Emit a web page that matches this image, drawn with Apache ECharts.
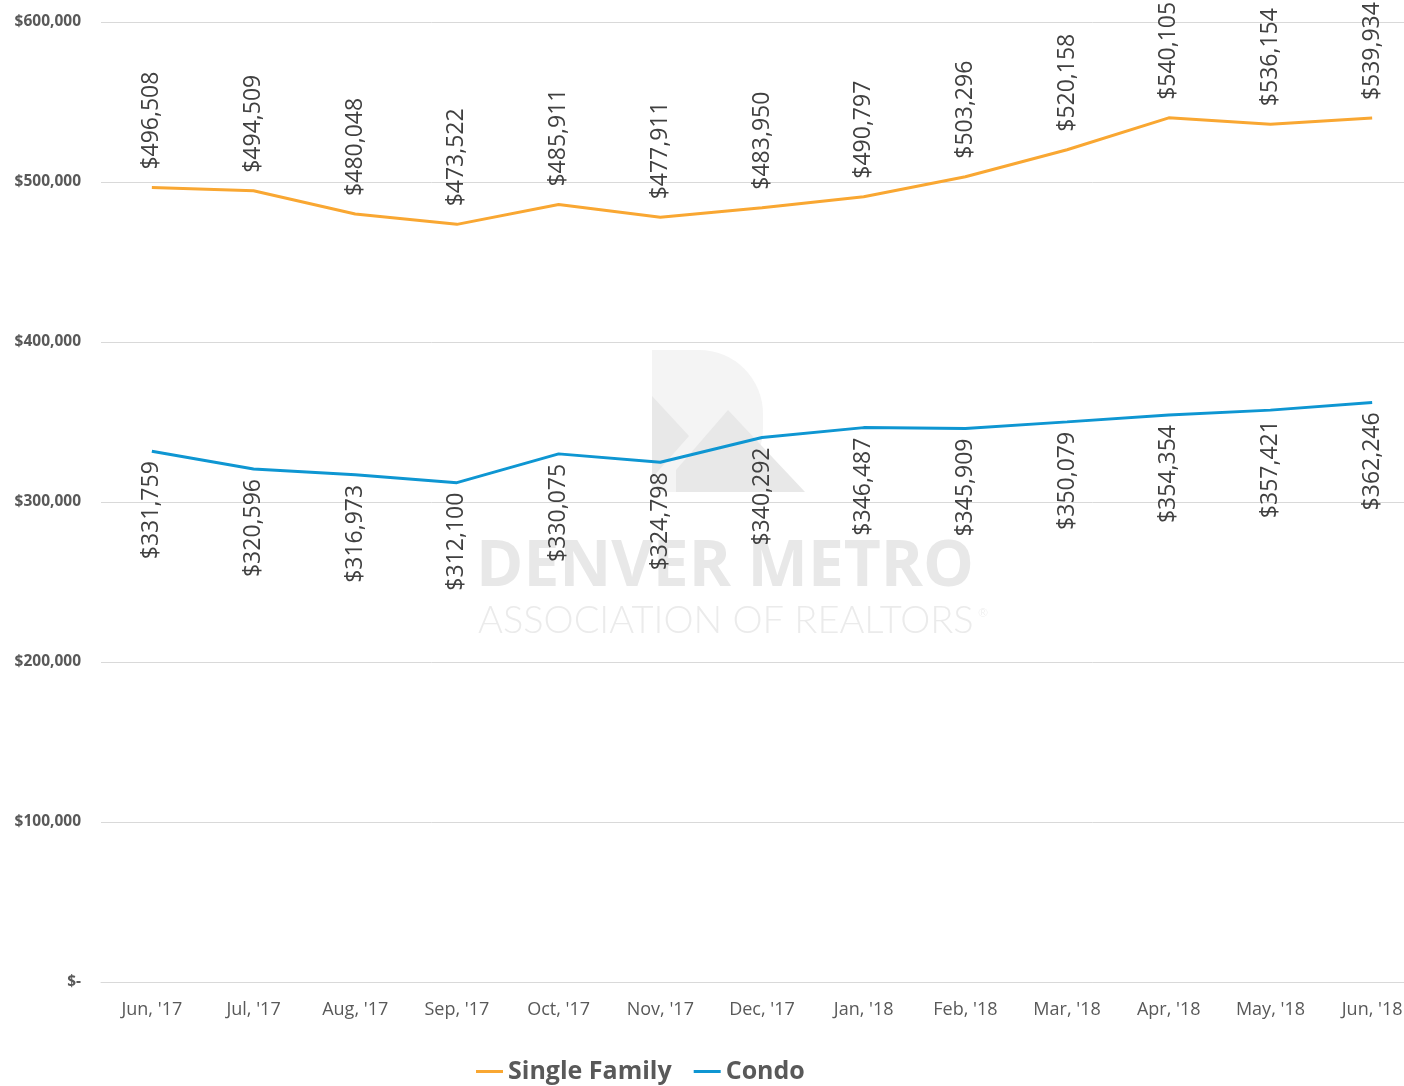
<!DOCTYPE html>
<html>
<head>
<meta charset="utf-8">
<script src="https://cdn.jsdelivr.net/npm/echarts@6/dist/echarts.min.js"></script>
<style>
  html, body { margin: 0; padding: 0; background: #fff; overflow: hidden; }
  /* 绘图区右侧超出窗口, 与原图一致 */
  #main { width: 1423px; height: 1086px; }
</style>
</head>
<body>
<div id="main"></div>
<script>
// 月份
var months = ["Jun, '17", "Jul, '17", "Aug, '17", "Sep, '17", "Oct, '17", "Nov, '17", "Dec, '17",
  "Jan, '18", "Feb, '18", "Mar, '18", "Apr, '18", "May, '18", "Jun, '18"];
// 独栋住宅均价
var singleFamily = [496508, 494509, 480048, 473522, 485911, 477911, 483950, 490797, 503296, 520158, 540105, 536154, 539934];
// 公寓均价
var condo = [331759, 320596, 316973, 312100, 330075, 324798, 340292, 346487, 345909, 350079, 354354, 357421, 362246];
var seriesNames = ['Single Family', 'Condo'];

var colors = ['#F9A732', '#0E96D2']; // 橙、蓝
var textColor = '#404040';
var axisTextColor = '#595959';
var gridColor = '#D9D9D9';
var fontFamily = '"Open Sans", sans-serif';

var money = function(v) {
  if (v === 0) return '$-';
  return '$' + v.toLocaleString('en-US');
};

var myChart = echarts.init(document.getElementById('main'));

var labelStyle = {
  show: true,
  rotate: 90,
  verticalAlign: 'middle',
  color: textColor,
  fontFamily: fontFamily,
  fontSize: 23,
  fontWeight: 500,
  formatter: function(p) { return money(p.value); }
};

var option = {
  backgroundColor: '#fff',
  animation: false,
  // 水印
  graphic: [
    {
      type: 'rect', silent: true, z: 0,
      shape: { x: 652, y: 350, width: 111, height: 142, r: [0, 64, 64, 0] },
      style: { fill: '#F4F4F4' }
    },
    {
      type: 'polygon', silent: true, z: 0,
      shape: { points: [[652, 396], [689, 436], [652, 478]] },
      style: { fill: '#E8E8E8' }
    },
    {
      type: 'polygon', silent: true, z: 0,
      shape: { points: [[728, 410], [805, 492], [676, 492], [676, 470]] },
      style: { fill: '#E8E8E8' }
    },
    {
      type: 'text', silent: true, z: 0, left: 476, top: 536,
      style: { text: 'DENVER METRO', fill: '#E8E8E8', font: 'bold 64px "Open Sans", sans-serif' }
    },
    {
      type: 'text', silent: true, z: 0, left: 478, top: 602,
      style: { text: 'ASSOCIATION OF REALTORS', fill: '#EBEBEB', font: '300 38px Lato, "Open Sans", sans-serif' }
    },
    {
      type: 'text', silent: true, z: 0, left: 978, top: 607,
      style: { text: '\u00AE', fill: '#EBEBEB', font: '300 12px Lato, "Open Sans", sans-serif' }
    }
  ],
  legend: {
    data: seriesNames,
    top: 1059,
    left: 476,
    padding: 0,
    icon: 'rect',
    itemWidth: 27,
    itemHeight: 3,
    itemGap: 22,
    textStyle: {
      color: axisTextColor,
      fontFamily: fontFamily,
      fontSize: 25,
      fontWeight: 'bold'
    }
  },
  grid: {
    left: 101,
    top: 22,
    right: 0,
    bottom: 104,
    containLabel: false
  },
  xAxis: {
    type: 'category',
    data: months,
    boundaryGap: true,
    axisLine: { show: true, lineStyle: { color: gridColor, width: 1 } },
    axisTick: { show: false },
    axisLabel: {
      color: axisTextColor,
      fontFamily: fontFamily,
      fontSize: 18,
      margin: 19,
      interval: 0
    },
    splitLine: { show: false }
  },
  yAxis: {
    type: 'value',
    min: 0,
    max: 600000,
    interval: 100000,
    axisLine: { show: false },
    axisTick: { show: false },
    axisLabel: {
      color: axisTextColor,
      fontFamily: fontFamily,
      fontSize: 15.5,
      fontWeight: 'bold',
      margin: 20,
      formatter: money
    },
    splitLine: { show: true, lineStyle: { color: gridColor, width: 1 } }
  },
  series: [
    {
      name: seriesNames[0],
      type: 'line',
      data: singleFamily,
      symbol: 'circle',
      symbolSize: 0,
      showSymbol: true,
      z: 3,
      lineStyle: { color: colors[0], width: 3 },
      itemStyle: { color: colors[0] },
      label: Object.assign({}, labelStyle, { position: 'top', align: 'left', distance: 18 })
    },
    {
      name: seriesNames[1],
      type: 'line',
      data: condo,
      symbol: 'circle',
      symbolSize: 0,
      showSymbol: true,
      z: 3,
      lineStyle: { color: colors[1], width: 3 },
      itemStyle: { color: colors[1] },
      label: Object.assign({}, labelStyle, { position: 'bottom', align: 'right', distance: 10 })
    }
  ]
};
myChart.setOption(option);
</script>
</body>
</html>
